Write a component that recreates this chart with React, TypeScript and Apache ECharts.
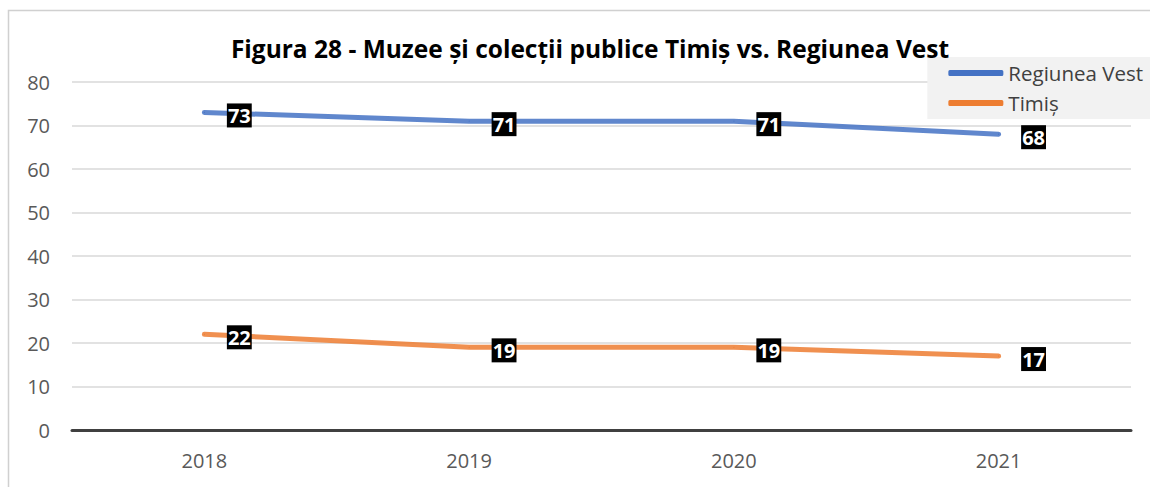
import React, { useEffect, useRef } from "react";
import * as echarts from "echarts";

const titleText = "Figura 28 - Muzee și colecții publice Timiș vs. Regiunea Vest";
const categories = ["2018", "2019", "2020", "2021"];
const seriesNames = ["Regiunea Vest", "Timiș"];
const regiuneaVest = [73, 71, 71, 68];
const timis = [22, 19, 19, 17];
const yMin = 0;
const yMax = 80;
const yInterval = 10;

const FONT = "'Open Sans', 'Liberation Sans', sans-serif";

export default function App() {
  const ref = useRef<HTMLDivElement>(null);
  useEffect(() => {
    if (!ref.current) return;
    const chart = echarts.init(ref.current, null, { renderer: "svg" });
    const label = {
      show: true,
      position: "right",
      distance: 22,
      offset: [0, 3],
      color: "#ffffff",
      backgroundColor: "#000000",
      borderRadius: 0,
      fontWeight: "bold",
      fontSize: 20,
      fontFamily: FONT,
      padding: [2, 1, 1, 1],
      lineHeight: 21,
    };
    chart.setOption({
      animation: false,
      backgroundColor: "#ffffff",
      graphic: [
        {
          type: "rect",
          shape: { x: 8.5, y: 10.5, width: 1160, height: 500 },
          style: { fill: "none", stroke: "#d0d0d0", lineWidth: 1.5 },
          z: -10,
        },
      ],
      title: {
        text: titleText,
        left: 585,
        textAlign: "center",
        top: 31,
        textStyle: { fontFamily: FONT, fontWeight: "bold", fontSize: 24.5, color: "#000000" },
      },
      legend: {
        orient: "vertical",
        right: 0,
        top: 57,
        backgroundColor: "#f2f2f2",
        padding: [4, 7, 4, 21],
        itemGap: 6,
        itemWidth: 55,
        itemHeight: 6,
        icon: "roundRect",
        textStyle: { fontFamily: FONT, fontSize: 20.5, lineHeight: 24, color: "#404040" },
        data: seriesNames,
      },
      grid: { left: 72, right: 19, top: 82, bottom: 57, containLabel: false },
      xAxis: {
        type: "category",
        data: categories,
        boundaryGap: true,
        axisLine: { show: true, lineStyle: { color: "#404040", width: 3 } },
        axisTick: { show: false },
        axisLabel: { fontFamily: FONT, fontSize: 20, color: "#595959", margin: 20 },
        z: 10,
      },
      yAxis: {
        type: "value",
        min: yMin,
        max: yMax,
        interval: yInterval,
        axisLine: { show: false },
        axisTick: { show: false },
        axisLabel: { fontFamily: FONT, fontSize: 20, color: "#595959", margin: 22 },
        splitLine: { lineStyle: { color: "#d9d9d9", width: 1.5 } },
      },
      series: [
        {
          name: seriesNames[0],
          type: "line",
          data: regiuneaVest,
          symbol: "circle",
          symbolSize: 1,
          showSymbol: true,
          lineStyle: { color: "#4472c4", width: 5, cap: "round", opacity: 0.85 },
          itemStyle: { color: "#4472c4" },
          label,
          z: 3,
        },
        {
          name: seriesNames[1],
          type: "line",
          data: timis,
          symbol: "circle",
          symbolSize: 1,
          showSymbol: true,
          lineStyle: { color: "#ed7d31", width: 5, cap: "round", opacity: 0.85 },
          itemStyle: { color: "#ed7d31" },
          label,
          z: 3,
        },
      ],
    });
    return () => chart.dispose();
  }, []);
  return (
    <div
      ref={ref}
      style={{ position: "fixed", left: 0, top: 0, width: 1150, height: 487 }}
    />
  );
}
